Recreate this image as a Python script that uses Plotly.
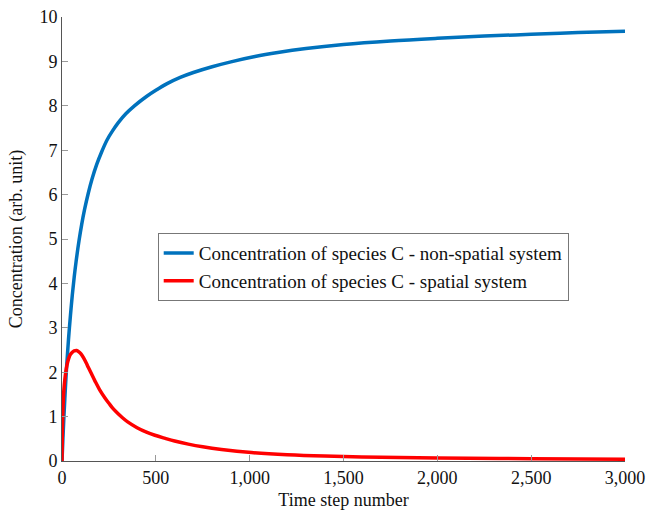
import plotly.graph_objects as go

# Concentration of species C over time, non-spatial system
t_nonspatial = [0, 5, 10, 15, 20, 25, 30, 37, 45, 55, 65, 75, 91, 105, 120,
                140, 160, 185, 211, 240, 270, 300, 340, 389, 450, 500, 560,
                630, 700, 800, 900, 1028, 1150, 1300, 1500, 1750, 2000, 2250,
                2500, 2750, 3000]
c_nonspatial = [0.0, 0.52, 0.98, 1.40, 1.79, 2.14, 2.46, 2.87, 3.28, 3.74,
                4.14, 4.49, 4.97, 5.33, 5.66, 6.03, 6.35, 6.68, 6.96, 7.23,
                7.44, 7.62, 7.82, 8.01, 8.21, 8.35, 8.50, 8.64, 8.75, 8.88,
                8.99, 9.11, 9.20, 9.29, 9.38, 9.46, 9.52, 9.57, 9.61, 9.65, 9.68]

# Concentration of species C over time, spatial system
t_spatial = [0, 2, 4, 7, 10, 15, 20, 27, 35, 45, 55, 65, 78, 90, 100, 115,
             130, 140, 155, 176, 200, 229, 250, 270, 295, 318, 350, 400, 450,
             495, 550, 600, 673, 750, 850, 1010, 1200, 1400, 1700, 2000, 2500,
             3000]
c_spatial = [0.0, 0.70, 1.05, 1.38, 1.60, 1.83, 2.00, 2.17, 2.30, 2.40, 2.45,
             2.48, 2.49, 2.46, 2.42, 2.32, 2.20, 2.11, 1.98, 1.80, 1.61, 1.42,
             1.30, 1.19, 1.08, 0.99, 0.88, 0.75, 0.65, 0.58, 0.51, 0.45, 0.38,
             0.32, 0.26, 0.19, 0.14, 0.11, 0.085, 0.07, 0.05, 0.04]

x_ticks = [0, 500, 1000, 1500, 2000, 2500, 3000]
y_ticks = list(range(0, 11))

FONT = "Liberation Serif, Times New Roman, serif"
SIZE = 18

fig = go.Figure()
fig.add_trace(go.Scatter(
    x=t_nonspatial, y=c_nonspatial, mode="lines",
    line=dict(color="#0072BD", width=3.5, shape="spline", smoothing=1.0),
    name="Concentration of species C - non-spatial system",
))
fig.add_trace(go.Scatter(
    x=t_spatial, y=c_spatial, mode="lines",
    line=dict(color="#FF0000", width=3.5, shape="spline", smoothing=1.0),
    name="Concentration of species C - spatial system",
))

axis_common = dict(
    showgrid=False, zeroline=False, showline=True, linecolor="#555555",
    linewidth=1, ticks="inside", ticklen=6, tickcolor="#999999",
    tickfont=dict(family=FONT, size=SIZE, color="#111111"), mirror=False,
    automargin=False,
)

fig.update_layout(
    width=649, height=513,
    margin=dict(l=62, r=24, t=17, b=52),
    paper_bgcolor="white", plot_bgcolor="white",
    font=dict(family=FONT, size=SIZE, color="#111111"),
    xaxis=dict(range=[0, 3000], tickvals=x_ticks, tickformat=",",
               title=dict(text="Time step number", font=dict(family=FONT, size=SIZE),
                          standoff=6),
               **axis_common),
    yaxis=dict(range=[0, 10], tickvals=y_ticks,
               title=dict(text="Concentration (arb. unit)",
                          font=dict(family=FONT, size=SIZE), standoff=12),
               **axis_common),
    legend=dict(x=0.17, y=0.513, xanchor="left", yanchor="top",
                bgcolor="white", bordercolor="#777777", borderwidth=1,
                font=dict(family=FONT, size=19), tracegroupgap=0,
                itemwidth=30),
    showlegend=True,
)

fig.write_html("out.html")
